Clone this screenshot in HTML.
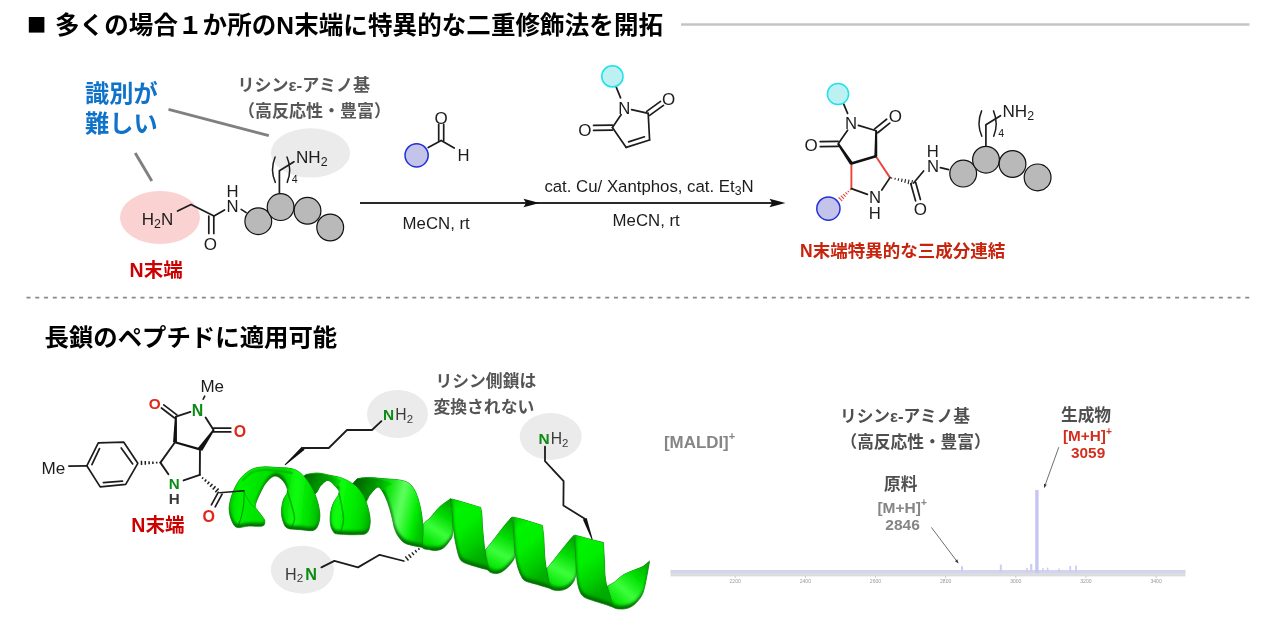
<!DOCTYPE html>
<html lang="ja"><head><meta charset="utf-8"><title>N末端特異的な二重修飾法</title>
<style>
html,body{margin:0;padding:0;background:#fff;}
body{width:1284px;height:627px;overflow:hidden;font-family:"Liberation Sans",sans-serif;}
svg{display:block;}
svg text{font-family:"Liberation Sans","Noto Sans CJK JP",sans-serif;}
</style></head><body>
<svg width="1284" height="627" viewBox="0 0 1284 627" font-family="'Liberation Sans', 'Noto Sans CJK JP', sans-serif"><defs><filter id="soft" x="0" y="0" width="100%" height="100%" filterUnits="userSpaceOnUse" color-interpolation-filters="sRGB"><feGaussianBlur stdDeviation="0.7"/></filter></defs><rect width="1284" height="627" fill="#fff"/><g filter="url(#soft)"><rect x="28.8" y="17" width="15.6" height="15.6" fill="#000"/><text x="55" y="33.6" font-size="24.5" font-weight="bold" fill="#000" textLength="608" lengthAdjust="spacing">多くの場合１か所のN末端に特異的な二重修飾法を開拓</text><line x1="681" y1="24.5" x2="1249.5" y2="24.5" stroke="#c4c4c4" stroke-width="2.6" stroke-linecap="butt"/>
<ellipse cx="160" cy="217.5" rx="40" ry="26.5" fill="#fad2d2"/><ellipse cx="310.5" cy="152.9" rx="39.6" ry="24.6" fill="#ebebeb"/><line x1="168.5" y1="109.3" x2="268.8" y2="135.6" stroke="#808080" stroke-width="2.9" stroke-linecap="butt"/><line x1="135.2" y1="153" x2="151.8" y2="181" stroke="#808080" stroke-width="2.9" stroke-linecap="butt"/><text x="85" y="102.3" font-size="24.2" font-weight="bold" fill="#0f73c9">識別が</text><text x="85" y="132.3" font-size="24.2" font-weight="bold" fill="#0f73c9">難しい</text><text x="237.5" y="91" font-size="17" font-weight="bold" fill="#575757">リシンε-アミノ基</text><text x="238" y="116.5" font-size="17" font-weight="bold" fill="#575757">（高反応性・豊富）</text><text x="141.7" y="224.7" font-size="17" fill="#1c1c1c">H<tspan font-size="12.4" dy="3">2</tspan><tspan dy="-3">N</tspan></text><polyline points="177.6,211 191,204.4 214,216 224.5,210" fill="none" stroke="#1c1c1c" stroke-width="1.7" stroke-linejoin="round" stroke-linecap="round"/><line x1="213.8" y1="216" x2="213.8" y2="233.5" stroke="#1c1c1c" stroke-width="1.7" stroke-linecap="round"/><line x1="208.8" y1="216" x2="208.8" y2="233.5" stroke="#1c1c1c" stroke-width="1.7" stroke-linecap="round"/><text x="203.8" y="250.4" font-size="17" fill="#1c1c1c">O</text><text x="226.6" y="211.6" font-size="16.7" fill="#1c1c1c">N</text><text x="226.6" y="196.8" font-size="16.7" fill="#1c1c1c">H</text><line x1="241.2" y1="209.4" x2="246.2" y2="212.6" stroke="#1c1c1c" stroke-width="1.7" stroke-linecap="round"/><circle cx="258.3" cy="221.2" r="13.4" fill="#b9b9b9" stroke="#111" stroke-width="1.2"/><circle cx="280.6" cy="207.1" r="13.4" fill="#b9b9b9" stroke="#111" stroke-width="1.2"/><circle cx="307.5" cy="210.8" r="13.4" fill="#b9b9b9" stroke="#111" stroke-width="1.2"/><circle cx="330.2" cy="227.5" r="13.4" fill="#b9b9b9" stroke="#111" stroke-width="1.2"/><polyline points="279.4,193 279.4,170.8 294,161.8" fill="none" stroke="#1c1c1c" stroke-width="1.7" stroke-linejoin="round" stroke-linecap="round"/><path d="M275.1,157 Q269.8,169.8 275.3,182.4" fill="none" stroke="#1c1c1c" stroke-width="1.5" stroke-linecap="round"/><path d="M287,157 Q292.3,169.8 287.2,182.4" fill="none" stroke="#1c1c1c" stroke-width="1.5" stroke-linecap="round"/><text x="291.8" y="183.1" font-size="10.6" fill="#1c1c1c">4</text><text x="296" y="162.9" font-size="17.1" fill="#1c1c1c">NH<tspan font-size="12.4" dy="3">2</tspan></text><text x="129.6" y="277.2" font-size="19.5" font-weight="bold" fill="#cc0000">N末端</text>
<line x1="360" y1="203" x2="775" y2="203" stroke="#2a2a2a" stroke-width="2" stroke-linecap="butt"/><path d="M539.5,203 L523.5,198.7 L526.1,203 L523.5,207.3Z" fill="#111"/><path d="M785.5,203 L769.5,198.7 L772.1,203 L769.5,207.3Z" fill="#111"/><text x="402.6" y="228.9" font-size="16.8" fill="#1c1c1c">MeCN, rt</text><text x="544.4" y="191.9" font-size="16.8" fill="#1c1c1c">cat. Cu/ Xantphos, cat. Et<tspan font-size="12.3" dy="3.1">3</tspan><tspan dy="-3.1">N</tspan></text><text x="612.6" y="225.7" font-size="16.8" fill="#1c1c1c">MeCN, rt</text><polyline points="428.2,147.6 441.2,140.4 454.2,148" fill="none" stroke="#1c1c1c" stroke-width="1.7" stroke-linejoin="round" stroke-linecap="round"/><line x1="438.7" y1="140.4" x2="438.7" y2="124.4" stroke="#1c1c1c" stroke-width="1.7" stroke-linecap="round"/><line x1="443.7" y1="140.4" x2="443.7" y2="124.4" stroke="#1c1c1c" stroke-width="1.7" stroke-linecap="round"/><circle cx="416.6" cy="155.3" r="11.6" fill="#c4c4ea" stroke="#2130d8" stroke-width="1.5"/><text x="434.4" y="123.6" font-size="17" fill="#1c1c1c">O</text><text x="457.4" y="161.2" font-size="16.7" fill="#1c1c1c">H</text><line x1="616.2" y1="87.2" x2="620.6" y2="97.8" stroke="#1c1c1c" stroke-width="1.7" stroke-linecap="round"/><line x1="621.2" y1="114.6" x2="612.4" y2="127.6" stroke="#1c1c1c" stroke-width="1.7" stroke-linecap="round"/><line x1="612.4" y1="127.6" x2="626.2" y2="147.4" stroke="#1c1c1c" stroke-width="1.7" stroke-linecap="round"/><line x1="626.2" y1="147.4" x2="649.6" y2="140" stroke="#1c1c1c" stroke-width="1.7" stroke-linecap="round"/><line x1="628.56" y1="141.83" x2="644.47" y2="136.8" stroke="#1c1c1c" stroke-width="1.7" stroke-linecap="round"/><line x1="649.6" y1="140" x2="648.2" y2="113.4" stroke="#1c1c1c" stroke-width="1.7" stroke-linecap="round"/><line x1="648.2" y1="113.4" x2="631.6" y2="109.6" stroke="#1c1c1c" stroke-width="1.7" stroke-linecap="round"/><line x1="612.44" y1="130.1" x2="593.64" y2="130.4" stroke="#1c1c1c" stroke-width="1.7" stroke-linecap="round"/><line x1="612.36" y1="125.1" x2="593.56" y2="125.4" stroke="#1c1c1c" stroke-width="1.7" stroke-linecap="round"/><line x1="646.73" y1="111.38" x2="660.53" y2="101.38" stroke="#1c1c1c" stroke-width="1.7" stroke-linecap="round"/><line x1="649.67" y1="115.42" x2="663.47" y2="105.42" stroke="#1c1c1c" stroke-width="1.7" stroke-linecap="round"/><circle cx="612.4" cy="76.4" r="10.6" fill="#bdf1f1" stroke="#20e2ea" stroke-width="1.5"/><text x="618.3" y="113.6" font-size="16.7" fill="#1c1c1c">N</text><text x="578.2" y="136" font-size="17" fill="#1c1c1c">O</text><text x="662" y="104.8" font-size="17" fill="#1c1c1c">O</text>
<line x1="843.6" y1="103.8" x2="847.6" y2="113.4" stroke="#1c1c1c" stroke-width="1.7" stroke-linecap="round"/><line x1="858.4" y1="125.4" x2="876.2" y2="130.8" stroke="#1c1c1c" stroke-width="1.7" stroke-linecap="round"/><line x1="847.6" y1="130.2" x2="838.2" y2="143.8" stroke="#1c1c1c" stroke-width="1.7" stroke-linecap="round"/><line x1="874.64" y1="128.85" x2="886.64" y2="119.25" stroke="#1c1c1c" stroke-width="1.7" stroke-linecap="round"/><line x1="877.76" y1="132.75" x2="889.76" y2="123.15" stroke="#1c1c1c" stroke-width="1.7" stroke-linecap="round"/><line x1="838.26" y1="146.3" x2="820.26" y2="146.7" stroke="#1c1c1c" stroke-width="1.7" stroke-linecap="round"/><line x1="838.14" y1="141.3" x2="820.14" y2="141.7" stroke="#1c1c1c" stroke-width="1.7" stroke-linecap="round"/><line x1="851.4" y1="163.4" x2="851.4" y2="188.6" stroke="#e8453a" stroke-width="1.9" stroke-linecap="round"/><line x1="875.8" y1="156.2" x2="890" y2="177.6" stroke="#e8453a" stroke-width="1.9" stroke-linecap="round"/><polygon points="837.29,144.41 849.95,164.38 852.85,162.42 839.11,143.19" fill="#111"/><polygon points="875.2,130.78 874.35,156.18 877.25,156.22 877.2,130.82" fill="#111"/><line x1="851.4" y1="163.4" x2="875.8" y2="156.2" stroke="#111" stroke-width="2.6" stroke-linecap="round"/><line x1="851.4" y1="188.6" x2="867.4" y2="194.4" stroke="#1c1c1c" stroke-width="1.7" stroke-linecap="round"/><line x1="881.8" y1="190" x2="890" y2="177.6" stroke="#1c1c1c" stroke-width="1.7" stroke-linecap="round"/><line x1="849.98" y1="189.14" x2="850.82" y2="190" stroke="#e8453a" stroke-width="1.1" stroke-linecap="butt"/><line x1="847.7" y1="190.78" x2="849.1" y2="192.22" stroke="#e8453a" stroke-width="1.1" stroke-linecap="butt"/><line x1="845.43" y1="192.43" x2="847.37" y2="194.44" stroke="#e8453a" stroke-width="1.1" stroke-linecap="butt"/><line x1="843.15" y1="194.07" x2="845.65" y2="196.66" stroke="#e8453a" stroke-width="1.1" stroke-linecap="butt"/><line x1="840.87" y1="195.72" x2="843.93" y2="198.88" stroke="#e8453a" stroke-width="1.1" stroke-linecap="butt"/><line x1="838.59" y1="197.36" x2="842.21" y2="201.1" stroke="#e8453a" stroke-width="1.1" stroke-linecap="butt"/><line x1="891.56" y1="178.54" x2="891.81" y2="177.43" stroke="#1c1c1c" stroke-width="1.1" stroke-linecap="butt"/><line x1="894.85" y1="179.65" x2="895.26" y2="177.87" stroke="#1c1c1c" stroke-width="1.1" stroke-linecap="butt"/><line x1="898.15" y1="180.75" x2="898.71" y2="178.3" stroke="#1c1c1c" stroke-width="1.1" stroke-linecap="butt"/><line x1="901.44" y1="181.86" x2="902.16" y2="178.74" stroke="#1c1c1c" stroke-width="1.1" stroke-linecap="butt"/><line x1="904.74" y1="182.97" x2="905.6" y2="179.18" stroke="#1c1c1c" stroke-width="1.1" stroke-linecap="butt"/><line x1="908.03" y1="184.07" x2="909.05" y2="179.61" stroke="#1c1c1c" stroke-width="1.1" stroke-linecap="butt"/><line x1="911.33" y1="185.18" x2="912.5" y2="180.05" stroke="#1c1c1c" stroke-width="1.1" stroke-linecap="butt"/><line x1="915.61" y1="182.33" x2="920.41" y2="199.53" stroke="#1c1c1c" stroke-width="1.7" stroke-linecap="round"/><line x1="910.79" y1="183.67" x2="915.59" y2="200.87" stroke="#1c1c1c" stroke-width="1.7" stroke-linecap="round"/><line x1="913.6" y1="183" x2="923.6" y2="171" stroke="#1c1c1c" stroke-width="1.7" stroke-linecap="round"/><line x1="940.4" y1="167.6" x2="948.6" y2="169.6" stroke="#1c1c1c" stroke-width="1.7" stroke-linecap="round"/><circle cx="838" cy="94" r="10.6" fill="#bdf1f1" stroke="#20e2ea" stroke-width="1.5"/><circle cx="828.4" cy="208.6" r="11.6" fill="#c4c4ea" stroke="#2130d8" stroke-width="1.5"/><text x="844.9" y="129.2" font-size="16.7" fill="#1c1c1c">N</text><text x="888.8" y="122.2" font-size="17" fill="#1c1c1c">O</text><text x="804.4" y="150.6" font-size="17" fill="#1c1c1c">O</text><text x="868.9" y="203" font-size="16.7" fill="#1c1c1c">N</text><text x="868.8" y="218.8" font-size="16.7" fill="#1c1c1c">H</text><text x="913.8" y="214.8" font-size="17" fill="#1c1c1c">O</text><text x="926.9" y="171.8" font-size="16.7" fill="#1c1c1c">N</text><text x="926.8" y="156.6" font-size="16.7" fill="#1c1c1c">H</text><circle cx="963.2" cy="173.6" r="13.4" fill="#b9b9b9" stroke="#111" stroke-width="1.2"/><circle cx="986" cy="159.7" r="13.4" fill="#b9b9b9" stroke="#111" stroke-width="1.2"/><circle cx="1012.5" cy="164" r="13.4" fill="#b9b9b9" stroke="#111" stroke-width="1.2"/><circle cx="1037.6" cy="177.4" r="13.4" fill="#b9b9b9" stroke="#111" stroke-width="1.2"/><polyline points="985.9,145.4 985.9,124.7 1000.5,115.7" fill="none" stroke="#1c1c1c" stroke-width="1.7" stroke-linejoin="round" stroke-linecap="round"/><path d="M981.6,110.9 Q976.3,123.7 981.8,136.3" fill="none" stroke="#1c1c1c" stroke-width="1.5" stroke-linecap="round"/><path d="M993.5,110.9 Q998.8,123.7 993.7,136.3" fill="none" stroke="#1c1c1c" stroke-width="1.5" stroke-linecap="round"/><text x="998.3" y="137" font-size="10.6" fill="#1c1c1c">4</text><text x="1002.5" y="116.8" font-size="17.1" fill="#1c1c1c">NH<tspan font-size="12.4" dy="3">2</tspan></text><text x="800" y="257.4" font-size="17.5" font-weight="bold" fill="#c8230d">N末端特異的な三成分連結</text>
<line x1="26.5" y1="297.6" x2="1249.6" y2="297.6" stroke="#8a8a8a" stroke-width="1.9" stroke-dasharray="4.0 4.768"/>
<text x="44.5" y="346.3" font-size="24.4" font-weight="bold" fill="#000">長鎖のペプチドに適用可能</text>
<ellipse cx="397.5" cy="414" rx="30.5" ry="24" fill="#ebebeb"/><ellipse cx="550.7" cy="436.5" rx="31" ry="23.4" fill="#ebebeb"/><ellipse cx="302.4" cy="569.7" rx="31.6" ry="24" fill="#ebebeb"/>
<defs><linearGradient id="hb4" gradientUnits="userSpaceOnUse" x1="425" y1="545" x2="452" y2="503"><stop offset="0" stop-color="#00e400"/><stop offset="0.3" stop-color="#3cff3c"/><stop offset="0.62" stop-color="#00dc00"/><stop offset="1" stop-color="#009c00"/></linearGradient><linearGradient id="hb6" gradientUnits="userSpaceOnUse" x1="487" y1="570" x2="512" y2="520"><stop offset="0" stop-color="#00e400"/><stop offset="0.3" stop-color="#3cff3c"/><stop offset="0.62" stop-color="#00dc00"/><stop offset="1" stop-color="#009c00"/></linearGradient><linearGradient id="hb8" gradientUnits="userSpaceOnUse" x1="549" y1="588" x2="574" y2="538"><stop offset="0" stop-color="#00e400"/><stop offset="0.3" stop-color="#3cff3c"/><stop offset="0.62" stop-color="#00dc00"/><stop offset="1" stop-color="#009c00"/></linearGradient><linearGradient id="hb10" gradientUnits="userSpaceOnUse" x1="612" y1="606" x2="648" y2="564"><stop offset="0" stop-color="#00e400"/><stop offset="0.3" stop-color="#3cff3c"/><stop offset="0.62" stop-color="#00e000"/><stop offset="1" stop-color="#00a000"/></linearGradient><linearGradient id="hf9" gradientUnits="userSpaceOnUse" x1="573" y1="538" x2="610" y2="590"><stop offset="0" stop-color="#00cc00"/><stop offset="0.18" stop-color="#00f400"/><stop offset="0.45" stop-color="#00f000"/><stop offset="0.75" stop-color="#00d000"/><stop offset="1" stop-color="#00ac00"/></linearGradient><linearGradient id="hf7" gradientUnits="userSpaceOnUse" x1="511" y1="523" x2="550" y2="575"><stop offset="0" stop-color="#00cc00"/><stop offset="0.18" stop-color="#00f400"/><stop offset="0.45" stop-color="#00f000"/><stop offset="0.75" stop-color="#00d000"/><stop offset="1" stop-color="#00ac00"/></linearGradient><linearGradient id="hf5" gradientUnits="userSpaceOnUse" x1="449" y1="503" x2="489" y2="555"><stop offset="0" stop-color="#00cc00"/><stop offset="0.18" stop-color="#00f400"/><stop offset="0.45" stop-color="#00f000"/><stop offset="0.75" stop-color="#00d000"/><stop offset="1" stop-color="#00ac00"/></linearGradient><linearGradient id="hl3" gradientUnits="userSpaceOnUse" x1="372" y1="500" x2="424" y2="512"><stop offset="0" stop-color="#00b400"/><stop offset="0.22" stop-color="#00e000"/><stop offset="0.55" stop-color="#60ff60"/><stop offset="0.85" stop-color="#00ee00"/><stop offset="1" stop-color="#00c400"/></linearGradient><linearGradient id="hs3" gradientUnits="userSpaceOnUse" x1="358" y1="480" x2="388" y2="492"><stop offset="0" stop-color="#005800"/><stop offset="0.5" stop-color="#009000"/><stop offset="1" stop-color="#00d400"/></linearGradient><linearGradient id="hl2" gradientUnits="userSpaceOnUse" x1="329" y1="505" x2="371" y2="512"><stop offset="0" stop-color="#00d000"/><stop offset="0.18" stop-color="#0cff0c"/><stop offset="0.5" stop-color="#00f000"/><stop offset="0.8" stop-color="#00d800"/><stop offset="1" stop-color="#00b000"/></linearGradient><linearGradient id="hs2" gradientUnits="userSpaceOnUse" x1="307" y1="475" x2="336" y2="488"><stop offset="0" stop-color="#005800"/><stop offset="0.5" stop-color="#009000"/><stop offset="1" stop-color="#00d400"/></linearGradient><linearGradient id="hl1" gradientUnits="userSpaceOnUse" x1="229" y1="500" x2="320" y2="508"><stop offset="0" stop-color="#00c800"/><stop offset="0.1" stop-color="#00f400"/><stop offset="0.3" stop-color="#00e400"/><stop offset="0.58" stop-color="#00d800"/><stop offset="0.72" stop-color="#0cff0c"/><stop offset="0.9" stop-color="#00da00"/><stop offset="1" stop-color="#00b000"/></linearGradient><filter id="hblur" x="-20%" y="-20%" width="140%" height="140%"><feGaussianBlur stdDeviation="1.6"/></filter><clipPath id="hc1"><path d="M423.3,524.6C424.8,521.52 427.87,520.37 430.5,517.5C433.13,514.63 435.75,510.52 439.1,507.4C442.45,504.28 450.6,498.8 450.6,498.8C450.6,498.8 451.9,509.07 452.2,515C452.5,520.93 452.92,529.98 452.4,534.4C451.88,538.82 450.6,539.23 449.1,541.5C447.6,543.77 445.43,546.52 443.4,548C441.37,549.48 439.05,550.08 436.9,550.4C434.75,550.72 433,550.42 430.5,549.9C428,549.38 423.4,549.62 421.9,547.3C420.4,544.98 421.27,539.78 421.5,536C421.73,532.22 421.8,527.68 423.3,524.6Z"/></clipPath><clipPath id="hc2"><path d="M484.9,550.5C484.9,550.5 491.38,542.65 494.4,538.8C497.42,534.95 500.13,530.98 503,527.4C505.87,523.82 511.6,517.3 511.6,517.3C511.6,517.3 513.13,524.22 513.6,530C514.07,535.78 514.28,547.3 514.4,552C514.52,556.7 515.13,556 514.3,558.2C513.47,560.4 511.38,562.98 509.4,565.2C507.42,567.42 504.73,570.1 502.4,571.5C500.07,572.9 497.73,573.72 495.4,573.6C493.07,573.48 490.07,572.73 488.4,570.8C486.73,568.87 485.98,565.38 485.4,562C484.82,558.62 484.9,550.5 484.9,550.5Z"/></clipPath><clipPath id="hc3"><path d="M545.9,570.1C545.9,570.1 554.53,559.02 558.5,554C562.47,548.98 567.12,543.12 569.7,540C572.28,536.88 574,535.3 574,535.3C574,535.3 575.03,544.22 575.4,550C575.77,555.78 576.33,565.12 576.2,570C576.07,574.88 575.45,576.82 574.6,579.3C573.75,581.78 572.62,583.27 571.1,584.9C569.58,586.53 567.6,588.17 565.5,589.1C563.4,590.03 561.07,590.62 558.5,590.5C555.93,590.38 552.02,590.15 550.1,588.4C548.18,586.65 547.7,583.05 547,580C546.3,576.95 545.9,570.1 545.9,570.1Z"/></clipPath><clipPath id="hc4"><path d="M606.9,586.3C606.9,586.3 611.92,583.88 614.6,582C617.28,580.12 619.73,576.98 623,575C626.27,573.02 630.93,571.5 634.2,570.1C637.47,568.7 640.03,568.12 642.6,566.6C645.17,565.08 649.6,561 649.6,561C649.6,561 647.85,571.35 646.8,576.5C645.75,581.65 644.7,587.93 643.3,591.9C641.9,595.87 640.38,597.85 638.4,600.3C636.42,602.75 633.97,605.15 631.4,606.6C628.83,608.05 626.03,608.88 623,609C619.97,609.12 615.7,609.13 613.2,607.3C610.7,605.47 609.05,601.5 608,598C606.95,594.5 606.9,586.3 606.9,586.3Z"/></clipPath><clipPath id="hc5"><path d="M574.7,535C574.7,535 584.32,537.67 589.1,538.9C593.88,540.13 603.4,542.4 603.4,542.4C603.4,542.4 604.23,555.57 604.5,561C604.77,566.43 604.6,570.78 605,575C605.4,579.22 606.15,583.13 606.9,586.3C607.65,589.47 608.45,590.5 609.5,594C610.55,597.5 613.2,607.3 613.2,607.3C613.2,607.3 606.9,604.97 603.4,603.8C599.9,602.63 595.48,601.47 592.2,600.3C588.92,599.13 585.82,598.43 583.7,596.8C581.58,595.17 580.62,593.42 579.5,590.5C578.38,587.58 577.58,584.22 577,579.3C576.42,574.38 576.3,566.72 576,561C575.7,555.28 575.42,549.33 575.2,545C574.98,540.67 574.7,535 574.7,535Z"/></clipPath><clipPath id="hc6"><path d="M512.3,517C512.3,517 518.08,518.1 523.1,519.5C528.12,520.9 542.4,525.4 542.4,525.4C542.4,525.4 543.4,532.17 543.8,537.4C544.2,542.63 544.33,551.35 544.8,556.8C545.27,562.25 545.95,565.9 546.6,570.1C547.25,574.3 548.12,578.95 548.7,582C549.28,585.05 550.1,588.4 550.1,588.4C550.1,588.4 540.3,585.48 536.1,584.2C531.9,582.92 527.47,582.23 524.9,580.7C522.33,579.17 521.98,577.58 520.7,575C519.42,572.42 518.1,568.7 517.2,565.2C516.3,561.7 515.8,558.63 515.3,554C514.8,549.37 514.53,542.4 514.2,537.4C513.87,532.4 513.62,527.4 513.3,524C512.98,520.6 512.3,517 512.3,517Z"/></clipPath><clipPath id="hc7"><path d="M450.6,498.8C450.6,498.8 455.38,499.92 459.2,501C463.02,502.08 469.92,504.23 473.5,505.3C477.08,506.37 480.7,507.4 480.7,507.4C480.7,507.4 481.58,511.17 481.9,514.6C482.22,518.03 482.13,522.32 482.6,528C483.07,533.68 484.05,543.33 484.7,548.7C485.35,554.07 485.73,556.62 486.5,560.2C487.27,563.78 489.3,570.2 489.3,570.2C489.3,570.2 477.8,567.22 473.5,565.9C469.2,564.58 465.88,563.73 463.5,562.3C461.12,560.87 460.52,560.52 459.2,557.3C457.88,554.08 456.57,547.78 455.6,543C454.63,538.22 453.97,534.1 453.4,528.6C452.83,523.1 452.67,514.97 452.2,510C451.73,505.03 450.6,498.8 450.6,498.8Z"/></clipPath><clipPath id="hc8"><path d="M357.3,478.7C357.3,478.7 362.77,477.6 367.3,477.6C371.83,477.6 378.75,478.23 384.5,478.7C390.25,479.17 397.48,479.45 401.8,480.4C406.12,481.35 408.02,482.28 410.4,484.4C412.78,486.52 414.55,489.75 416.1,493.1C417.65,496.45 418.73,500.68 419.7,504.5C420.67,508.32 421.35,511.75 421.9,516C422.45,520.25 423,524.78 423,530C423,535.22 421.9,547.3 421.9,547.3C421.9,547.3 409.93,545.38 406.1,543.7C402.27,542.02 400.82,539.72 398.9,537.2C396.98,534.68 395.8,532.13 394.6,528.6C393.4,525.07 392.9,520.48 391.7,516C390.5,511.52 389.07,506 387.4,501.7C385.73,497.4 383.37,492.6 381.7,490.2C380.03,487.8 379.32,486.58 377.4,487.3C375.48,488.02 372.43,491.88 370.2,494.5C367.97,497.12 367.03,502.42 364,503C360.97,503.58 354.17,500.67 352,498C349.83,495.33 350.12,490.22 351,487C351.88,483.78 357.3,478.7 357.3,478.7Z"/></clipPath><clipPath id="hc9"><path d="M306.1,474.4C306.1,474.4 313.77,472.88 317.6,473C321.43,473.12 324.78,474.15 329.1,475.1C333.42,476.05 338.88,476.72 343.5,478.7C348.12,480.68 353.25,483.65 356.8,487C360.35,490.35 362.72,494.43 364.8,498.8C366.88,503.17 368.43,508.9 369.3,513.2C370.17,517.5 370.48,521.25 370,524.6C369.52,527.95 368.92,531.62 366.4,533.3C363.88,534.98 359.68,534.58 354.9,534.7C350.12,534.82 341.28,534.48 337.7,534C334.12,533.52 334.6,533.37 333.4,531.8C332.2,530.23 330.98,527.7 330.5,524.6C330.02,521.5 330.02,516.78 330.5,513.2C330.98,509.62 331.97,506.45 333.4,503.1C334.83,499.75 338.62,495.73 339.1,493.1C339.58,490.47 337.73,489.22 336.3,487.3C334.87,485.38 332.18,482.67 330.5,481.6C328.82,480.53 327.87,480.18 326.2,480.9C324.53,481.62 322.45,483.72 320.5,485.9C318.55,488.08 317.58,493.32 314.5,494C311.42,494.68 304.42,492.17 302,490C299.58,487.83 299.32,483.6 300,481C300.68,478.4 306.1,474.4 306.1,474.4Z"/></clipPath><clipPath id="hc10"><path d="M229.3,511.7C228.93,508.35 229.15,505.52 230,501.7C230.85,497.88 232.48,492.87 234.4,488.8C236.32,484.73 238.63,480.53 241.5,477.3C244.37,474.07 248.02,471.13 251.6,469.4C255.18,467.67 258.7,467.22 263,466.9C267.3,466.58 272.6,467.2 277.4,467.5C282.2,467.8 287.97,467.78 291.8,468.7C295.63,469.62 297.53,470.62 300.4,473C303.27,475.38 306.37,478.93 309,483C311.63,487.07 314.4,492.37 316.2,497.4C318,502.43 319.45,508.67 319.8,513.2C320.15,517.73 319.38,521.73 318.3,524.6C317.22,527.47 316.28,529.55 313.3,530.4C310.32,531.25 304.7,530.07 300.4,529.7C296.1,529.33 290.37,529.52 287.5,528.2C284.63,526.88 284.22,524.55 283.2,521.8C282.18,519.05 281.4,515.3 281.4,511.7C281.4,508.1 282.18,503.55 283.2,500.2C284.22,496.85 287.27,494.47 287.5,491.6C287.73,488.73 286.05,485.38 284.6,483C283.15,480.62 280.72,478.37 278.8,477.3C276.88,476.23 275.25,475.65 273.1,476.6C270.95,477.55 268.05,480.25 265.9,483C263.75,485.75 261.87,489.75 260.2,493.1C258.53,496.45 256.73,500.72 255.9,503.1C255.07,505.48 255.2,507.4 255.2,507.4C255.2,507.4 261.4,515.1 263,517.5C264.6,519.9 264.92,520.37 264.8,521.8C264.68,523.23 264.98,525.38 262.3,526.1C259.62,526.82 252.88,525.87 248.7,526.1C244.52,526.33 239.95,528.22 237.2,527.5C234.45,526.78 233.52,524.43 232.2,521.8C230.88,519.17 229.67,515.05 229.3,511.7Z"/></clipPath></defs><g><path d="M423.3,524.6C424.8,521.52 427.87,520.37 430.5,517.5C433.13,514.63 435.75,510.52 439.1,507.4C442.45,504.28 450.6,498.8 450.6,498.8C450.6,498.8 451.9,509.07 452.2,515C452.5,520.93 452.92,529.98 452.4,534.4C451.88,538.82 450.6,539.23 449.1,541.5C447.6,543.77 445.43,546.52 443.4,548C441.37,549.48 439.05,550.08 436.9,550.4C434.75,550.72 433,550.42 430.5,549.9C428,549.38 423.4,549.62 421.9,547.3C420.4,544.98 421.27,539.78 421.5,536C421.73,532.22 421.8,527.68 423.3,524.6Z" fill="#017001" stroke="#067a06" stroke-width="0.7" stroke-linejoin="round"/><g clip-path="url(#hc1)"><path d="M423.3,524.6C424.8,521.52 427.87,520.37 430.5,517.5C433.13,514.63 435.75,510.52 439.1,507.4C442.45,504.28 450.6,498.8 450.6,498.8C450.6,498.8 451.9,509.07 452.2,515C452.5,520.93 452.92,529.98 452.4,534.4C451.88,538.82 450.6,539.23 449.1,541.5C447.6,543.77 445.43,546.52 443.4,548C441.37,549.48 439.05,550.08 436.9,550.4C434.75,550.72 433,550.42 430.5,549.9C428,549.38 423.4,549.62 421.9,547.3C420.4,544.98 421.27,539.78 421.5,536C421.73,532.22 421.8,527.68 423.3,524.6Z" fill="url(#hb4)" stroke="url(#hb4)" stroke-width="1.2" transform="translate(0.6,-4)" filter="url(#hblur)"/></g><path d="M484.9,550.5C484.9,550.5 491.38,542.65 494.4,538.8C497.42,534.95 500.13,530.98 503,527.4C505.87,523.82 511.6,517.3 511.6,517.3C511.6,517.3 513.13,524.22 513.6,530C514.07,535.78 514.28,547.3 514.4,552C514.52,556.7 515.13,556 514.3,558.2C513.47,560.4 511.38,562.98 509.4,565.2C507.42,567.42 504.73,570.1 502.4,571.5C500.07,572.9 497.73,573.72 495.4,573.6C493.07,573.48 490.07,572.73 488.4,570.8C486.73,568.87 485.98,565.38 485.4,562C484.82,558.62 484.9,550.5 484.9,550.5Z" fill="#017001" stroke="#067a06" stroke-width="0.7" stroke-linejoin="round"/><g clip-path="url(#hc2)"><path d="M484.9,550.5C484.9,550.5 491.38,542.65 494.4,538.8C497.42,534.95 500.13,530.98 503,527.4C505.87,523.82 511.6,517.3 511.6,517.3C511.6,517.3 513.13,524.22 513.6,530C514.07,535.78 514.28,547.3 514.4,552C514.52,556.7 515.13,556 514.3,558.2C513.47,560.4 511.38,562.98 509.4,565.2C507.42,567.42 504.73,570.1 502.4,571.5C500.07,572.9 497.73,573.72 495.4,573.6C493.07,573.48 490.07,572.73 488.4,570.8C486.73,568.87 485.98,565.38 485.4,562C484.82,558.62 484.9,550.5 484.9,550.5Z" fill="url(#hb6)" stroke="url(#hb6)" stroke-width="1.2" transform="translate(0.6,-4)" filter="url(#hblur)"/></g><path d="M545.9,570.1C545.9,570.1 554.53,559.02 558.5,554C562.47,548.98 567.12,543.12 569.7,540C572.28,536.88 574,535.3 574,535.3C574,535.3 575.03,544.22 575.4,550C575.77,555.78 576.33,565.12 576.2,570C576.07,574.88 575.45,576.82 574.6,579.3C573.75,581.78 572.62,583.27 571.1,584.9C569.58,586.53 567.6,588.17 565.5,589.1C563.4,590.03 561.07,590.62 558.5,590.5C555.93,590.38 552.02,590.15 550.1,588.4C548.18,586.65 547.7,583.05 547,580C546.3,576.95 545.9,570.1 545.9,570.1Z" fill="#017001" stroke="#067a06" stroke-width="0.7" stroke-linejoin="round"/><g clip-path="url(#hc3)"><path d="M545.9,570.1C545.9,570.1 554.53,559.02 558.5,554C562.47,548.98 567.12,543.12 569.7,540C572.28,536.88 574,535.3 574,535.3C574,535.3 575.03,544.22 575.4,550C575.77,555.78 576.33,565.12 576.2,570C576.07,574.88 575.45,576.82 574.6,579.3C573.75,581.78 572.62,583.27 571.1,584.9C569.58,586.53 567.6,588.17 565.5,589.1C563.4,590.03 561.07,590.62 558.5,590.5C555.93,590.38 552.02,590.15 550.1,588.4C548.18,586.65 547.7,583.05 547,580C546.3,576.95 545.9,570.1 545.9,570.1Z" fill="url(#hb8)" stroke="url(#hb8)" stroke-width="1.2" transform="translate(0.6,-4)" filter="url(#hblur)"/></g><path d="M606.9,586.3C606.9,586.3 611.92,583.88 614.6,582C617.28,580.12 619.73,576.98 623,575C626.27,573.02 630.93,571.5 634.2,570.1C637.47,568.7 640.03,568.12 642.6,566.6C645.17,565.08 649.6,561 649.6,561C649.6,561 647.85,571.35 646.8,576.5C645.75,581.65 644.7,587.93 643.3,591.9C641.9,595.87 640.38,597.85 638.4,600.3C636.42,602.75 633.97,605.15 631.4,606.6C628.83,608.05 626.03,608.88 623,609C619.97,609.12 615.7,609.13 613.2,607.3C610.7,605.47 609.05,601.5 608,598C606.95,594.5 606.9,586.3 606.9,586.3Z" fill="#017001" stroke="#067a06" stroke-width="0.7" stroke-linejoin="round"/><g clip-path="url(#hc4)"><path d="M606.9,586.3C606.9,586.3 611.92,583.88 614.6,582C617.28,580.12 619.73,576.98 623,575C626.27,573.02 630.93,571.5 634.2,570.1C637.47,568.7 640.03,568.12 642.6,566.6C645.17,565.08 649.6,561 649.6,561C649.6,561 647.85,571.35 646.8,576.5C645.75,581.65 644.7,587.93 643.3,591.9C641.9,595.87 640.38,597.85 638.4,600.3C636.42,602.75 633.97,605.15 631.4,606.6C628.83,608.05 626.03,608.88 623,609C619.97,609.12 615.7,609.13 613.2,607.3C610.7,605.47 609.05,601.5 608,598C606.95,594.5 606.9,586.3 606.9,586.3Z" fill="url(#hb10)" stroke="url(#hb10)" stroke-width="1.2" transform="translate(0.6,-4)" filter="url(#hblur)"/></g><path d="M574.7,535C574.7,535 584.32,537.67 589.1,538.9C593.88,540.13 603.4,542.4 603.4,542.4C603.4,542.4 604.23,555.57 604.5,561C604.77,566.43 604.6,570.78 605,575C605.4,579.22 606.15,583.13 606.9,586.3C607.65,589.47 608.45,590.5 609.5,594C610.55,597.5 613.2,607.3 613.2,607.3C613.2,607.3 606.9,604.97 603.4,603.8C599.9,602.63 595.48,601.47 592.2,600.3C588.92,599.13 585.82,598.43 583.7,596.8C581.58,595.17 580.62,593.42 579.5,590.5C578.38,587.58 577.58,584.22 577,579.3C576.42,574.38 576.3,566.72 576,561C575.7,555.28 575.42,549.33 575.2,545C574.98,540.67 574.7,535 574.7,535Z" fill="#017001" stroke="#067a06" stroke-width="0.7" stroke-linejoin="round"/><g clip-path="url(#hc5)"><path d="M574.7,535C574.7,535 584.32,537.67 589.1,538.9C593.88,540.13 603.4,542.4 603.4,542.4C603.4,542.4 604.23,555.57 604.5,561C604.77,566.43 604.6,570.78 605,575C605.4,579.22 606.15,583.13 606.9,586.3C607.65,589.47 608.45,590.5 609.5,594C610.55,597.5 613.2,607.3 613.2,607.3C613.2,607.3 606.9,604.97 603.4,603.8C599.9,602.63 595.48,601.47 592.2,600.3C588.92,599.13 585.82,598.43 583.7,596.8C581.58,595.17 580.62,593.42 579.5,590.5C578.38,587.58 577.58,584.22 577,579.3C576.42,574.38 576.3,566.72 576,561C575.7,555.28 575.42,549.33 575.2,545C574.98,540.67 574.7,535 574.7,535Z" fill="url(#hf9)" stroke="url(#hf9)" stroke-width="1.2" transform="translate(0.6,-4)" filter="url(#hblur)"/></g><path d="M512.3,517C512.3,517 518.08,518.1 523.1,519.5C528.12,520.9 542.4,525.4 542.4,525.4C542.4,525.4 543.4,532.17 543.8,537.4C544.2,542.63 544.33,551.35 544.8,556.8C545.27,562.25 545.95,565.9 546.6,570.1C547.25,574.3 548.12,578.95 548.7,582C549.28,585.05 550.1,588.4 550.1,588.4C550.1,588.4 540.3,585.48 536.1,584.2C531.9,582.92 527.47,582.23 524.9,580.7C522.33,579.17 521.98,577.58 520.7,575C519.42,572.42 518.1,568.7 517.2,565.2C516.3,561.7 515.8,558.63 515.3,554C514.8,549.37 514.53,542.4 514.2,537.4C513.87,532.4 513.62,527.4 513.3,524C512.98,520.6 512.3,517 512.3,517Z" fill="#017001" stroke="#067a06" stroke-width="0.7" stroke-linejoin="round"/><g clip-path="url(#hc6)"><path d="M512.3,517C512.3,517 518.08,518.1 523.1,519.5C528.12,520.9 542.4,525.4 542.4,525.4C542.4,525.4 543.4,532.17 543.8,537.4C544.2,542.63 544.33,551.35 544.8,556.8C545.27,562.25 545.95,565.9 546.6,570.1C547.25,574.3 548.12,578.95 548.7,582C549.28,585.05 550.1,588.4 550.1,588.4C550.1,588.4 540.3,585.48 536.1,584.2C531.9,582.92 527.47,582.23 524.9,580.7C522.33,579.17 521.98,577.58 520.7,575C519.42,572.42 518.1,568.7 517.2,565.2C516.3,561.7 515.8,558.63 515.3,554C514.8,549.37 514.53,542.4 514.2,537.4C513.87,532.4 513.62,527.4 513.3,524C512.98,520.6 512.3,517 512.3,517Z" fill="url(#hf7)" stroke="url(#hf7)" stroke-width="1.2" transform="translate(0.6,-4)" filter="url(#hblur)"/></g><path d="M450.6,498.8C450.6,498.8 455.38,499.92 459.2,501C463.02,502.08 469.92,504.23 473.5,505.3C477.08,506.37 480.7,507.4 480.7,507.4C480.7,507.4 481.58,511.17 481.9,514.6C482.22,518.03 482.13,522.32 482.6,528C483.07,533.68 484.05,543.33 484.7,548.7C485.35,554.07 485.73,556.62 486.5,560.2C487.27,563.78 489.3,570.2 489.3,570.2C489.3,570.2 477.8,567.22 473.5,565.9C469.2,564.58 465.88,563.73 463.5,562.3C461.12,560.87 460.52,560.52 459.2,557.3C457.88,554.08 456.57,547.78 455.6,543C454.63,538.22 453.97,534.1 453.4,528.6C452.83,523.1 452.67,514.97 452.2,510C451.73,505.03 450.6,498.8 450.6,498.8Z" fill="#017001" stroke="#067a06" stroke-width="0.7" stroke-linejoin="round"/><g clip-path="url(#hc7)"><path d="M450.6,498.8C450.6,498.8 455.38,499.92 459.2,501C463.02,502.08 469.92,504.23 473.5,505.3C477.08,506.37 480.7,507.4 480.7,507.4C480.7,507.4 481.58,511.17 481.9,514.6C482.22,518.03 482.13,522.32 482.6,528C483.07,533.68 484.05,543.33 484.7,548.7C485.35,554.07 485.73,556.62 486.5,560.2C487.27,563.78 489.3,570.2 489.3,570.2C489.3,570.2 477.8,567.22 473.5,565.9C469.2,564.58 465.88,563.73 463.5,562.3C461.12,560.87 460.52,560.52 459.2,557.3C457.88,554.08 456.57,547.78 455.6,543C454.63,538.22 453.97,534.1 453.4,528.6C452.83,523.1 452.67,514.97 452.2,510C451.73,505.03 450.6,498.8 450.6,498.8Z" fill="url(#hf5)" stroke="url(#hf5)" stroke-width="1.2" transform="translate(0.6,-4)" filter="url(#hblur)"/></g><path d="M357.3,478.7C357.3,478.7 362.77,477.6 367.3,477.6C371.83,477.6 378.75,478.23 384.5,478.7C390.25,479.17 397.48,479.45 401.8,480.4C406.12,481.35 408.02,482.28 410.4,484.4C412.78,486.52 414.55,489.75 416.1,493.1C417.65,496.45 418.73,500.68 419.7,504.5C420.67,508.32 421.35,511.75 421.9,516C422.45,520.25 423,524.78 423,530C423,535.22 421.9,547.3 421.9,547.3C421.9,547.3 409.93,545.38 406.1,543.7C402.27,542.02 400.82,539.72 398.9,537.2C396.98,534.68 395.8,532.13 394.6,528.6C393.4,525.07 392.9,520.48 391.7,516C390.5,511.52 389.07,506 387.4,501.7C385.73,497.4 383.37,492.6 381.7,490.2C380.03,487.8 379.32,486.58 377.4,487.3C375.48,488.02 372.43,491.88 370.2,494.5C367.97,497.12 367.03,502.42 364,503C360.97,503.58 354.17,500.67 352,498C349.83,495.33 350.12,490.22 351,487C351.88,483.78 357.3,478.7 357.3,478.7Z" fill="#017001" stroke="#067a06" stroke-width="0.7" stroke-linejoin="round"/><g clip-path="url(#hc8)"><path d="M357.3,478.7C357.3,478.7 362.77,477.6 367.3,477.6C371.83,477.6 378.75,478.23 384.5,478.7C390.25,479.17 397.48,479.45 401.8,480.4C406.12,481.35 408.02,482.28 410.4,484.4C412.78,486.52 414.55,489.75 416.1,493.1C417.65,496.45 418.73,500.68 419.7,504.5C420.67,508.32 421.35,511.75 421.9,516C422.45,520.25 423,524.78 423,530C423,535.22 421.9,547.3 421.9,547.3C421.9,547.3 409.93,545.38 406.1,543.7C402.27,542.02 400.82,539.72 398.9,537.2C396.98,534.68 395.8,532.13 394.6,528.6C393.4,525.07 392.9,520.48 391.7,516C390.5,511.52 389.07,506 387.4,501.7C385.73,497.4 383.37,492.6 381.7,490.2C380.03,487.8 379.32,486.58 377.4,487.3C375.48,488.02 372.43,491.88 370.2,494.5C367.97,497.12 367.03,502.42 364,503C360.97,503.58 354.17,500.67 352,498C349.83,495.33 350.12,490.22 351,487C351.88,483.78 357.3,478.7 357.3,478.7Z" fill="url(#hl3)" stroke="url(#hl3)" stroke-width="1.2" transform="translate(0.6,-4)" filter="url(#hblur)"/></g><path d="M357.3,478.9C357.3,478.9 363.52,477.88 367.3,478C371.08,478.12 375.88,478.68 380,479.6C384.12,480.52 392,483.5 392,483.5C392,483.5 385.72,487.88 384,489C382.28,490.12 382.8,490.48 381.7,490.2C380.6,489.92 379.32,486.58 377.4,487.3C375.48,488.02 372.43,491.88 370.2,494.5C367.97,497.12 367.03,502.42 364,503C360.97,503.58 354.17,500.67 352,498C349.83,495.33 350.12,490.18 351,487C351.88,483.82 357.3,478.9 357.3,478.9Z" fill="url(#hs3)" stroke="none" stroke-width="0" stroke-linejoin="round" opacity="0.85"/><path d="M306.1,474.4C306.1,474.4 313.77,472.88 317.6,473C321.43,473.12 324.78,474.15 329.1,475.1C333.42,476.05 338.88,476.72 343.5,478.7C348.12,480.68 353.25,483.65 356.8,487C360.35,490.35 362.72,494.43 364.8,498.8C366.88,503.17 368.43,508.9 369.3,513.2C370.17,517.5 370.48,521.25 370,524.6C369.52,527.95 368.92,531.62 366.4,533.3C363.88,534.98 359.68,534.58 354.9,534.7C350.12,534.82 341.28,534.48 337.7,534C334.12,533.52 334.6,533.37 333.4,531.8C332.2,530.23 330.98,527.7 330.5,524.6C330.02,521.5 330.02,516.78 330.5,513.2C330.98,509.62 331.97,506.45 333.4,503.1C334.83,499.75 338.62,495.73 339.1,493.1C339.58,490.47 337.73,489.22 336.3,487.3C334.87,485.38 332.18,482.67 330.5,481.6C328.82,480.53 327.87,480.18 326.2,480.9C324.53,481.62 322.45,483.72 320.5,485.9C318.55,488.08 317.58,493.32 314.5,494C311.42,494.68 304.42,492.17 302,490C299.58,487.83 299.32,483.6 300,481C300.68,478.4 306.1,474.4 306.1,474.4Z" fill="#017001" stroke="#067a06" stroke-width="0.7" stroke-linejoin="round"/><g clip-path="url(#hc9)"><path d="M306.1,474.4C306.1,474.4 313.77,472.88 317.6,473C321.43,473.12 324.78,474.15 329.1,475.1C333.42,476.05 338.88,476.72 343.5,478.7C348.12,480.68 353.25,483.65 356.8,487C360.35,490.35 362.72,494.43 364.8,498.8C366.88,503.17 368.43,508.9 369.3,513.2C370.17,517.5 370.48,521.25 370,524.6C369.52,527.95 368.92,531.62 366.4,533.3C363.88,534.98 359.68,534.58 354.9,534.7C350.12,534.82 341.28,534.48 337.7,534C334.12,533.52 334.6,533.37 333.4,531.8C332.2,530.23 330.98,527.7 330.5,524.6C330.02,521.5 330.02,516.78 330.5,513.2C330.98,509.62 331.97,506.45 333.4,503.1C334.83,499.75 338.62,495.73 339.1,493.1C339.58,490.47 337.73,489.22 336.3,487.3C334.87,485.38 332.18,482.67 330.5,481.6C328.82,480.53 327.87,480.18 326.2,480.9C324.53,481.62 322.45,483.72 320.5,485.9C318.55,488.08 317.58,493.32 314.5,494C311.42,494.68 304.42,492.17 302,490C299.58,487.83 299.32,483.6 300,481C300.68,478.4 306.1,474.4 306.1,474.4Z" fill="url(#hl2)" stroke="url(#hl2)" stroke-width="1.2" transform="translate(0.6,-4)" filter="url(#hblur)"/></g><path d="M306.1,474.6C306.1,474.6 313.77,473.2 317.6,473.4C321.43,473.6 325.2,474.62 329.1,475.8C333,476.98 341,480.5 341,480.5C341,480.5 338.05,487.12 336.3,487.3C334.55,487.48 332.18,482.67 330.5,481.6C328.82,480.53 327.87,480.18 326.2,480.9C324.53,481.62 322.45,483.72 320.5,485.9C318.55,488.08 317.58,493.32 314.5,494C311.42,494.68 304.42,492.17 302,490C299.58,487.83 299.32,483.57 300,481C300.68,478.43 306.1,474.6 306.1,474.6Z" fill="url(#hs2)" stroke="none" stroke-width="0" stroke-linejoin="round" opacity="0.85"/><path d="M339.1,493.1C339.5,495.08 340.77,500.52 341.5,505C342.23,509.48 343.67,515.33 343.5,520C343.33,524.67 341,530.83 340.5,533" fill="none" stroke="#007800" stroke-width="1.5" stroke-linecap="round" opacity="0.55"/><path d="M229.3,511.7C228.93,508.35 229.15,505.52 230,501.7C230.85,497.88 232.48,492.87 234.4,488.8C236.32,484.73 238.63,480.53 241.5,477.3C244.37,474.07 248.02,471.13 251.6,469.4C255.18,467.67 258.7,467.22 263,466.9C267.3,466.58 272.6,467.2 277.4,467.5C282.2,467.8 287.97,467.78 291.8,468.7C295.63,469.62 297.53,470.62 300.4,473C303.27,475.38 306.37,478.93 309,483C311.63,487.07 314.4,492.37 316.2,497.4C318,502.43 319.45,508.67 319.8,513.2C320.15,517.73 319.38,521.73 318.3,524.6C317.22,527.47 316.28,529.55 313.3,530.4C310.32,531.25 304.7,530.07 300.4,529.7C296.1,529.33 290.37,529.52 287.5,528.2C284.63,526.88 284.22,524.55 283.2,521.8C282.18,519.05 281.4,515.3 281.4,511.7C281.4,508.1 282.18,503.55 283.2,500.2C284.22,496.85 287.27,494.47 287.5,491.6C287.73,488.73 286.05,485.38 284.6,483C283.15,480.62 280.72,478.37 278.8,477.3C276.88,476.23 275.25,475.65 273.1,476.6C270.95,477.55 268.05,480.25 265.9,483C263.75,485.75 261.87,489.75 260.2,493.1C258.53,496.45 256.73,500.72 255.9,503.1C255.07,505.48 255.2,507.4 255.2,507.4C255.2,507.4 261.4,515.1 263,517.5C264.6,519.9 264.92,520.37 264.8,521.8C264.68,523.23 264.98,525.38 262.3,526.1C259.62,526.82 252.88,525.87 248.7,526.1C244.52,526.33 239.95,528.22 237.2,527.5C234.45,526.78 233.52,524.43 232.2,521.8C230.88,519.17 229.67,515.05 229.3,511.7Z" fill="#017001" stroke="#067a06" stroke-width="0.7" stroke-linejoin="round"/><g clip-path="url(#hc10)"><path d="M229.3,511.7C228.93,508.35 229.15,505.52 230,501.7C230.85,497.88 232.48,492.87 234.4,488.8C236.32,484.73 238.63,480.53 241.5,477.3C244.37,474.07 248.02,471.13 251.6,469.4C255.18,467.67 258.7,467.22 263,466.9C267.3,466.58 272.6,467.2 277.4,467.5C282.2,467.8 287.97,467.78 291.8,468.7C295.63,469.62 297.53,470.62 300.4,473C303.27,475.38 306.37,478.93 309,483C311.63,487.07 314.4,492.37 316.2,497.4C318,502.43 319.45,508.67 319.8,513.2C320.15,517.73 319.38,521.73 318.3,524.6C317.22,527.47 316.28,529.55 313.3,530.4C310.32,531.25 304.7,530.07 300.4,529.7C296.1,529.33 290.37,529.52 287.5,528.2C284.63,526.88 284.22,524.55 283.2,521.8C282.18,519.05 281.4,515.3 281.4,511.7C281.4,508.1 282.18,503.55 283.2,500.2C284.22,496.85 287.27,494.47 287.5,491.6C287.73,488.73 286.05,485.38 284.6,483C283.15,480.62 280.72,478.37 278.8,477.3C276.88,476.23 275.25,475.65 273.1,476.6C270.95,477.55 268.05,480.25 265.9,483C263.75,485.75 261.87,489.75 260.2,493.1C258.53,496.45 256.73,500.72 255.9,503.1C255.07,505.48 255.2,507.4 255.2,507.4C255.2,507.4 261.4,515.1 263,517.5C264.6,519.9 264.92,520.37 264.8,521.8C264.68,523.23 264.98,525.38 262.3,526.1C259.62,526.82 252.88,525.87 248.7,526.1C244.52,526.33 239.95,528.22 237.2,527.5C234.45,526.78 233.52,524.43 232.2,521.8C230.88,519.17 229.67,515.05 229.3,511.7Z" fill="url(#hl1)" stroke="url(#hl1)" stroke-width="1.2" transform="translate(0.6,-4)" filter="url(#hblur)"/></g><path d="M243,480C244.5,478.75 248.67,474.17 252,472.5C255.33,470.83 258.67,470.28 263,470C267.33,469.72 273.17,470.3 278,470.8C282.83,471.3 289.67,472.63 292,473" fill="none" stroke="#068a06" stroke-width="2.2" stroke-linecap="round" opacity="0.35"/><path d="M287.5,491.6C288.08,493.5 289.83,498.6 291,503C292.17,507.4 294.42,513.83 294.5,518C294.58,522.17 292,526.33 291.5,528" fill="none" stroke="#007800" stroke-width="1.5" stroke-linecap="round" opacity="0.55"/><path d="M244.2,491.2C244.1,493.5 244.05,500.87 243.6,505C243.15,509.13 242.33,512.67 241.5,516C240.67,519.33 239.08,523.5 238.6,525" fill="none" stroke="#034a03" stroke-width="0.7" stroke-linecap="round" opacity="0.9"/><path d="M244.2,492C245.17,493.83 248.13,500.4 250,503C251.87,505.6 254.5,506.83 255.4,507.6" fill="none" stroke="#034a03" stroke-width="0.6" stroke-linecap="round" opacity="0.5"/></g>
<polygon points="137.8,463.3 123.8,442.2 98.3,442.9 86.8,465.8 100.2,486.9 125.7,484.3" fill="none" stroke="#1c1c1c" stroke-width="1.7" stroke-linejoin="round"/><line x1="121.2" y1="448" x2="132.7" y2="463.9" stroke="#1c1c1c" stroke-width="1.7" stroke-linecap="round"/><line x1="99.5" y1="448.6" x2="91.9" y2="464.6" stroke="#1c1c1c" stroke-width="1.7" stroke-linecap="round"/><line x1="103.4" y1="482.7" x2="122.5" y2="481.1" stroke="#1c1c1c" stroke-width="1.7" stroke-linecap="round"/><line x1="68.9" y1="466.1" x2="86.8" y2="465.8" stroke="#1c1c1c" stroke-width="1.7" stroke-linecap="round"/><text x="41.6" y="474.2" font-size="17.1" fill="#1c1c1c">Me</text><line x1="156.68" y1="461.78" x2="156.72" y2="463.5" stroke="#1c1c1c" stroke-width="1.5" stroke-linecap="butt"/><line x1="152.88" y1="461.54" x2="152.92" y2="463.9" stroke="#1c1c1c" stroke-width="1.5" stroke-linecap="butt"/><line x1="149.07" y1="461.3" x2="149.13" y2="464.3" stroke="#1c1c1c" stroke-width="1.5" stroke-linecap="butt"/><line x1="145.26" y1="461.06" x2="145.34" y2="464.7" stroke="#1c1c1c" stroke-width="1.5" stroke-linecap="butt"/><line x1="141.45" y1="460.82" x2="141.55" y2="465.1" stroke="#1c1c1c" stroke-width="1.5" stroke-linecap="butt"/><line x1="190.4" y1="411.9" x2="175.9" y2="416.6" stroke="#1c1c1c" stroke-width="1.9" stroke-linecap="round"/><line x1="205.6" y1="417.6" x2="213.6" y2="430" stroke="#1c1c1c" stroke-width="1.9" stroke-linecap="round"/><line x1="174.52" y1="417.95" x2="161.42" y2="407.95" stroke="#1c1c1c" stroke-width="1.7" stroke-linecap="round"/><line x1="176.88" y1="414.85" x2="163.78" y2="404.85" stroke="#1c1c1c" stroke-width="1.7" stroke-linecap="round"/><line x1="213.6" y1="428.05" x2="230.8" y2="428.05" stroke="#1c1c1c" stroke-width="1.7" stroke-linecap="round"/><line x1="213.6" y1="431.95" x2="230.8" y2="431.95" stroke="#1c1c1c" stroke-width="1.7" stroke-linecap="round"/><polygon points="174.9,416.56 173.05,442.13 176.95,442.27 176.9,416.64" fill="#111"/><polygon points="212.94,429.54 197.87,447.91 202.13,450.89 214.26,430.46" fill="#111"/><line x1="175" y1="442.2" x2="200" y2="449.4" stroke="#111" stroke-width="2.2" stroke-linecap="round"/><line x1="175" y1="442.2" x2="160.4" y2="462.6" stroke="#1c1c1c" stroke-width="1.9" stroke-linecap="round"/><line x1="200" y1="449.4" x2="199.8" y2="474.9" stroke="#1c1c1c" stroke-width="1.9" stroke-linecap="round"/><line x1="160.4" y1="462.6" x2="168.4" y2="474.2" stroke="#1c1c1c" stroke-width="1.9" stroke-linecap="round"/><line x1="183.6" y1="480.4" x2="199.8" y2="474.9" stroke="#1c1c1c" stroke-width="1.9" stroke-linecap="round"/><line x1="204.7" y1="396.2" x2="203.2" y2="399.2" stroke="#1c1c1c" stroke-width="1.6" stroke-linecap="round"/><text x="200.4" y="391.8" font-size="17" fill="#1c1c1c">Me</text><line x1="202.07" y1="478.69" x2="203.2" y2="477.38" stroke="#1c1c1c" stroke-width="1.5" stroke-linecap="butt"/><line x1="204.72" y1="481.41" x2="206.28" y2="479.59" stroke="#1c1c1c" stroke-width="1.5" stroke-linecap="butt"/><line x1="207.37" y1="484.13" x2="209.37" y2="481.8" stroke="#1c1c1c" stroke-width="1.5" stroke-linecap="butt"/><line x1="210.02" y1="486.85" x2="212.45" y2="484.02" stroke="#1c1c1c" stroke-width="1.5" stroke-linecap="butt"/><line x1="212.67" y1="489.57" x2="215.53" y2="486.23" stroke="#1c1c1c" stroke-width="1.5" stroke-linecap="butt"/><line x1="215.31" y1="492.29" x2="218.62" y2="488.45" stroke="#1c1c1c" stroke-width="1.5" stroke-linecap="butt"/><line x1="218.2" y1="492.3" x2="211.4" y2="504.8" stroke="#1c1c1c" stroke-width="1.7" stroke-linecap="round"/><line x1="222.1" y1="494.2" x2="215.2" y2="506.8" stroke="#1c1c1c" stroke-width="1.7" stroke-linecap="round"/><line x1="219.8" y1="492.7" x2="243.8" y2="490.8" stroke="#1c1c1c" stroke-width="1.6" stroke-linecap="round"/><text x="191.8" y="415.6" font-size="15.9" font-weight="bold" fill="#0b8a14">N</text><text x="148.8" y="408.6" font-size="15.3" font-weight="bold" fill="#e3261a">O</text><text x="233.7" y="437.1" font-size="15.9" font-weight="bold" fill="#e3261a">O</text><text x="168.8" y="489.2" font-size="15.1" font-weight="bold" fill="#0b8a14">N</text><text x="168.8" y="503.7" font-size="15.2" font-weight="bold" fill="#3a3a3a">H</text><text x="202.6" y="522.2" font-size="16" font-weight="bold" fill="#e3261a">O</text><text x="131.3" y="532.3" font-size="19.5" font-weight="bold" fill="#cc0000">N末端</text>
<polygon points="285.34,465.17 304.62,449.75 301.78,446.65 284.66,464.43" fill="#111"/><polyline points="302.6,448 328.8,448 347,430 372,430 381.4,421.2" fill="none" stroke="#1c1c1c" stroke-width="1.8" stroke-linejoin="round" stroke-linecap="round"/><text x="382.9" y="420" font-size="15.4" font-weight="bold" fill="#0b8a14">N</text><text x="395.3" y="420.2" font-size="15.7" fill="#3a3a3a">H<tspan font-size="11.4" dy="2.8">2</tspan></text><polyline points="545,446.6 545,461.2 563.6,481.2 563.4,505.6 584.8,518.8" fill="none" stroke="#1c1c1c" stroke-width="1.8" stroke-linejoin="round" stroke-linecap="round"/><polygon points="592.67,539.23 586.68,518.12 582.92,519.48 591.73,539.57" fill="#111"/><text x="538.5" y="443.6" font-size="15.4" font-weight="bold" fill="#0b8a14">N</text><text x="550.7" y="443.8" font-size="15.7" fill="#3a3a3a">H<tspan font-size="11.4" dy="2.8">2</tspan></text><polyline points="321.4,567.4 334.4,560.9 358,567.4 379.6,554.8 403.8,561" fill="none" stroke="#1c1c1c" stroke-width="1.8" stroke-linejoin="round" stroke-linecap="round"/><line x1="418.34" y1="548.26" x2="419.46" y2="549.7" stroke="#1c1c1c" stroke-width="1.4" stroke-linecap="butt"/><line x1="415.08" y1="550.29" x2="416.72" y2="552.39" stroke="#1c1c1c" stroke-width="1.4" stroke-linecap="butt"/><line x1="411.82" y1="552.32" x2="413.98" y2="555.08" stroke="#1c1c1c" stroke-width="1.4" stroke-linecap="butt"/><line x1="408.56" y1="554.35" x2="411.24" y2="557.77" stroke="#1c1c1c" stroke-width="1.4" stroke-linecap="butt"/><line x1="405.3" y1="556.38" x2="408.5" y2="560.46" stroke="#1c1c1c" stroke-width="1.4" stroke-linecap="butt"/><text x="285.1" y="579.5" font-size="16.1" fill="#3a3a3a">H<tspan font-size="11.7" dy="2.9">2</tspan></text><text x="305.2" y="579.6" font-size="16.2" font-weight="bold" fill="#0b8a14">N</text><text x="435.5" y="387" font-size="16.8" font-weight="bold" fill="#555">リシン側鎖は</text><text x="433.5" y="413.2" font-size="16.8" font-weight="bold" fill="#555">変換されない</text>
<text x="664" y="447.75" font-size="16.9" font-weight="bold" fill="#858585">[MALDI]<tspan font-size="11" dy="-7.3">+</tspan></text><text x="840" y="422" font-size="16.7" font-weight="bold" fill="#4f4f4f">リシンε-アミノ基</text><text x="840.5" y="447.6" font-size="16.7" font-weight="bold" fill="#4f4f4f">（高反応性・豊富）</text><text x="884" y="490.3" font-size="16.7" font-weight="bold" fill="#4f4f4f">原料</text><text x="877.4" y="512.9" font-size="15.5" font-weight="bold" fill="#858585">[M+H]<tspan font-size="10" dy="-6.6">+</tspan></text><text x="885.3" y="529.5" font-size="14.5" font-weight="bold" fill="#858585" textLength="34.6" lengthAdjust="spacingAndGlyphs">2846</text><text x="1061" y="421.2" font-size="16.7" font-weight="bold" fill="#4f4f4f">生成物</text><text x="1063" y="441.4" font-size="15.3" font-weight="bold" fill="#d2301f">[M+H]<tspan font-size="10" dy="-6.5">+</tspan></text><text x="1071" y="457.85" font-size="14.5" font-weight="bold" fill="#d2301f" textLength="34.2" lengthAdjust="spacingAndGlyphs">3059</text><line x1="1058.8" y1="447.2" x2="1045.43" y2="484.25" stroke="#4a4a4a" stroke-width="0.8" stroke-linecap="butt"/><polygon points="1044,488.2 1044.02,483.74 1046.84,484.76" fill="#3a3a3a"/><line x1="931.4" y1="527.4" x2="956.08" y2="560.24" stroke="#4a4a4a" stroke-width="0.8" stroke-linecap="butt"/><polygon points="958.6,563.6 954.88,561.14 957.28,559.34" fill="#3a3a3a"/><rect x="670.5" y="572.6" width="515" height="3.8" fill="#dcdcdc"/><rect x="670.5" y="570.0" width="515" height="3.0" fill="#d3d3f2"/><rect x="1035.2" y="490" width="3.4" height="83" fill="#c6c6f2"/><rect x="961" y="566.2" width="2" height="5.8" fill="#cdcdf3"/><rect x="999.8" y="564.6" width="2" height="7.4" fill="#cdcdf3"/><rect x="1030.1" y="564" width="2.2" height="8" fill="#cdcdf3"/><rect x="1026.2" y="568" width="1.6" height="4" fill="#cdcdf3"/><rect x="1042.2" y="568.2" width="1.6" height="3.8" fill="#cdcdf3"/><rect x="1046.8" y="567.6" width="1.6" height="4.4" fill="#cdcdf3"/><rect x="1058.2" y="568.6" width="1.6" height="3.4" fill="#cdcdf3"/><rect x="1069.3" y="566" width="1.8" height="6" fill="#cdcdf3"/><rect x="1075.1" y="565.6" width="1.8" height="6.4" fill="#cdcdf3"/><rect x="734.8" y="576.2" width="0.8" height="1.6" fill="#b5b5b5"/><text x="735.2" y="582.7" font-size="5.1" text-anchor="middle" fill="#9a9a9a">2200</text><rect x="804.95" y="576.2" width="0.8" height="1.6" fill="#b5b5b5"/><text x="805.35" y="582.7" font-size="5.1" text-anchor="middle" fill="#9a9a9a">2400</text><rect x="875.1" y="576.2" width="0.8" height="1.6" fill="#b5b5b5"/><text x="875.5" y="582.7" font-size="5.1" text-anchor="middle" fill="#9a9a9a">2600</text><rect x="945.25" y="576.2" width="0.8" height="1.6" fill="#b5b5b5"/><text x="945.65" y="582.7" font-size="5.1" text-anchor="middle" fill="#9a9a9a">2800</text><rect x="1015.4" y="576.2" width="0.8" height="1.6" fill="#b5b5b5"/><text x="1015.8" y="582.7" font-size="5.1" text-anchor="middle" fill="#9a9a9a">3000</text><rect x="1085.55" y="576.2" width="0.8" height="1.6" fill="#b5b5b5"/><text x="1085.95" y="582.7" font-size="5.1" text-anchor="middle" fill="#9a9a9a">3200</text><rect x="1155.7" y="576.2" width="0.8" height="1.6" fill="#b5b5b5"/><text x="1156.1" y="582.7" font-size="5.1" text-anchor="middle" fill="#9a9a9a">3400</text></g></svg>
</body></html>
